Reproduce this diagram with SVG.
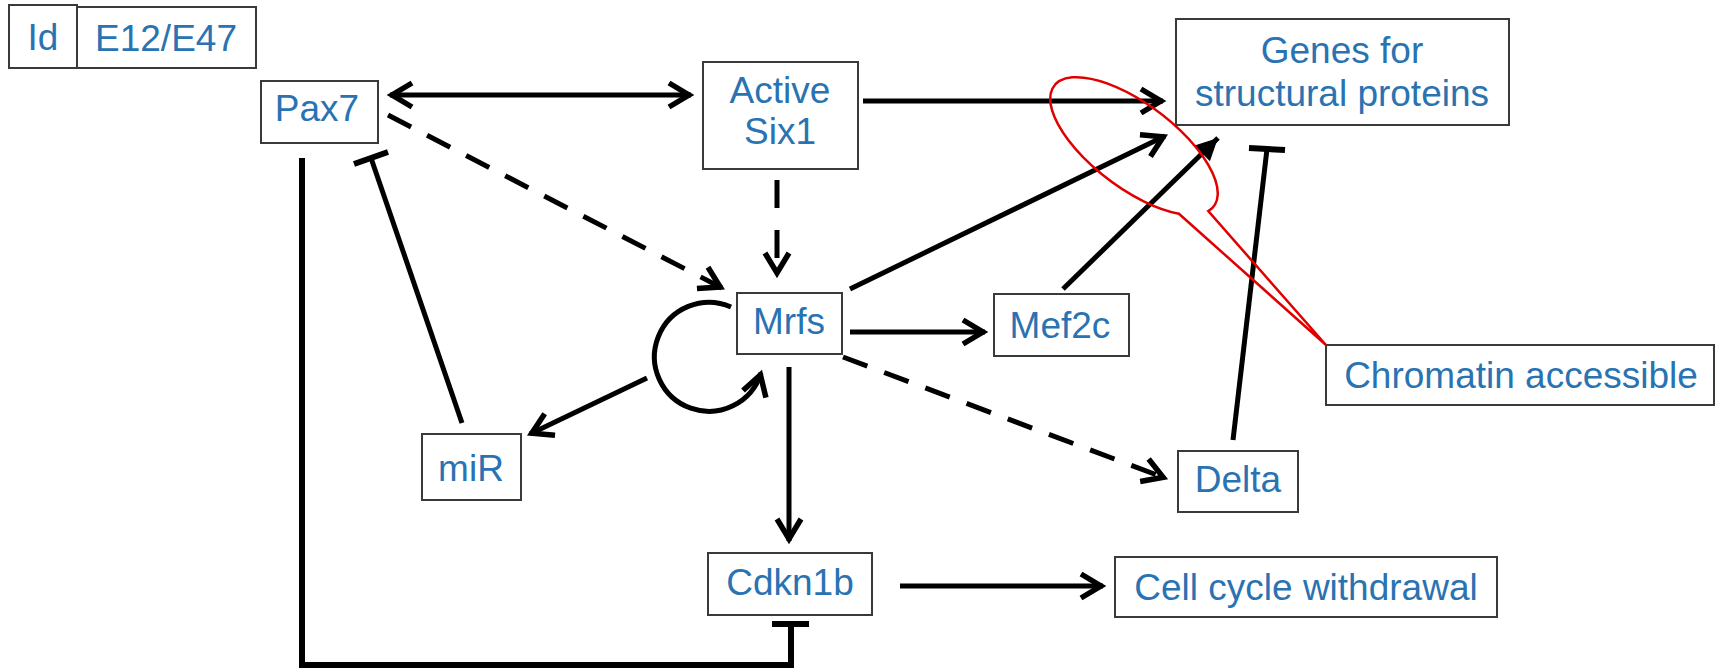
<svg xmlns="http://www.w3.org/2000/svg" width="1718" height="672" viewBox="0 0 1718 672">
<style>
.box{fill:#fff;stroke:#3a3a3a;stroke-width:2}
.lbl{font-family:"Liberation Sans",Arial,sans-serif;font-size:37px;fill:#2a73b2;text-anchor:middle}
.ln{fill:none;stroke:#000;stroke-width:5}
.dash{stroke-dasharray:26 18}
.tb{stroke:#000;stroke-width:6;fill:none}
</style>
<defs>
<marker id="arr" markerUnits="userSpaceOnUse" viewBox="-30 -16 36 32" refX="0" refY="0" markerWidth="36" markerHeight="32" orient="auto-start-reverse" overflow="visible">
<path d="M -22 -12 L -2 0 L -22 12" fill="none" stroke="#000" stroke-width="5.5" stroke-linejoin="miter"/>
</marker>
<marker id="arrF" markerUnits="userSpaceOnUse" viewBox="-30 -16 36 32" refX="0" refY="0" markerWidth="36" markerHeight="32" orient="auto" overflow="visible">
<path d="M -22 -11 L 0 0 L -22 11 Z" fill="#000"/>
</marker>
</defs>
<rect width="1718" height="672" fill="#fff"/>
<g id="connectors">
<line class="ln" x1="390" y1="95" x2="691" y2="95" marker-start="url(#arr)" marker-end="url(#arr)"/>
<line class="ln" x1="863" y1="101" x2="1163" y2="101" marker-end="url(#arr)"/>
<line class="ln" x1="777" y1="180" x2="777" y2="275" stroke-dasharray="28 22" marker-end="url(#arr)"/>
<line class="ln dash" x1="388" y1="115" x2="722" y2="288" marker-end="url(#arr)"/>
<line class="ln" x1="850" y1="289" x2="1165" y2="136" marker-end="url(#arr)"/>
<line class="ln" x1="1063" y1="289" x2="1218" y2="138" marker-end="url(#arrF)"/>
<line class="ln" x1="850" y1="332" x2="985" y2="332" marker-end="url(#arr)"/>
<line class="ln dash" x1="843" y1="357" x2="1165" y2="478" marker-end="url(#arr)"/>
<line class="ln" x1="789" y1="367" x2="789" y2="541" marker-end="url(#arr)"/>
<line class="ln" x1="900" y1="586" x2="1103" y2="586" marker-end="url(#arr)"/>
<line class="ln" x1="647" y1="378" x2="530" y2="434" marker-end="url(#arr)"/>
<path class="ln" d="M 731 307 A 54.5 54.5 0 1 0 761 373" marker-end="url(#arr)"/>
<line class="ln" x1="462" y1="423" x2="371" y2="158"/>
<line class="tb" x1="354" y1="164" x2="388" y2="152"/>
<path class="tb" d="M 302 158 V 665 H 791 V 624"/>
<line class="tb" x1="772" y1="624" x2="809" y2="624"/>
<line class="ln" x1="1233" y1="440" x2="1267" y2="149"/>
<line class="tb" x1="1249" y1="148" x2="1285" y2="150"/>
</g>
<g id="id"><rect class="box" x="9" y="5" width="68" height="63"/><text class="lbl" x="43" y="50">Id</text></g>
<g id="e12e47"><rect class="box" x="77" y="7" width="179" height="61"/><text class="lbl" x="166" y="51">E12/E47</text></g>
<g id="pax7"><rect class="box" x="261" y="81" width="117" height="62"/><text class="lbl" x="317" y="121">Pax7</text></g>
<g id="six1"><rect class="box" x="703" y="62" width="155" height="107"/><text class="lbl" x="780" y="103">Active</text><text class="lbl" x="780" y="144">Six1</text></g>
<g id="genes"><rect class="box" x="1176" y="19" width="333" height="106"/><text class="lbl" x="1342" y="63">Genes for</text><text class="lbl" x="1342" y="106">structural proteins</text></g>
<g id="mrfs"><rect class="box" x="737" y="293" width="105" height="61"/><text class="lbl" x="789" y="334">Mrfs</text></g>
<g id="mef2c"><rect class="box" x="994" y="294" width="135" height="62"/><text class="lbl" x="1060" y="338">Mef2c</text></g>
<g id="mir"><rect class="box" x="422" y="434" width="99" height="66"/><text class="lbl" x="471" y="481">miR</text></g>
<g id="delta"><rect class="box" x="1178" y="451" width="120" height="61"/><text class="lbl" x="1238" y="492">Delta</text></g>
<g id="cdkn1b"><rect class="box" x="708" y="553" width="164" height="62"/><text class="lbl" x="790" y="595">Cdkn1b</text></g>
<g id="cellcycle"><rect class="box" x="1115" y="557" width="382" height="60"/><text class="lbl" x="1306" y="600">Cell cycle withdrawal</text></g>
<g id="chromatin"><rect class="box" x="1326" y="345" width="388" height="60"/><text class="lbl" x="1521" y="388">Chromatin accessible</text></g>
<g id="callout">
<path d="M 1208.3 211.1 A 100 42 37 1 0 1178.9 213.7 L 1326 345 Z" fill="none" stroke="#e00000" stroke-width="2.5" stroke-linejoin="miter"/>
</g>
</svg>
